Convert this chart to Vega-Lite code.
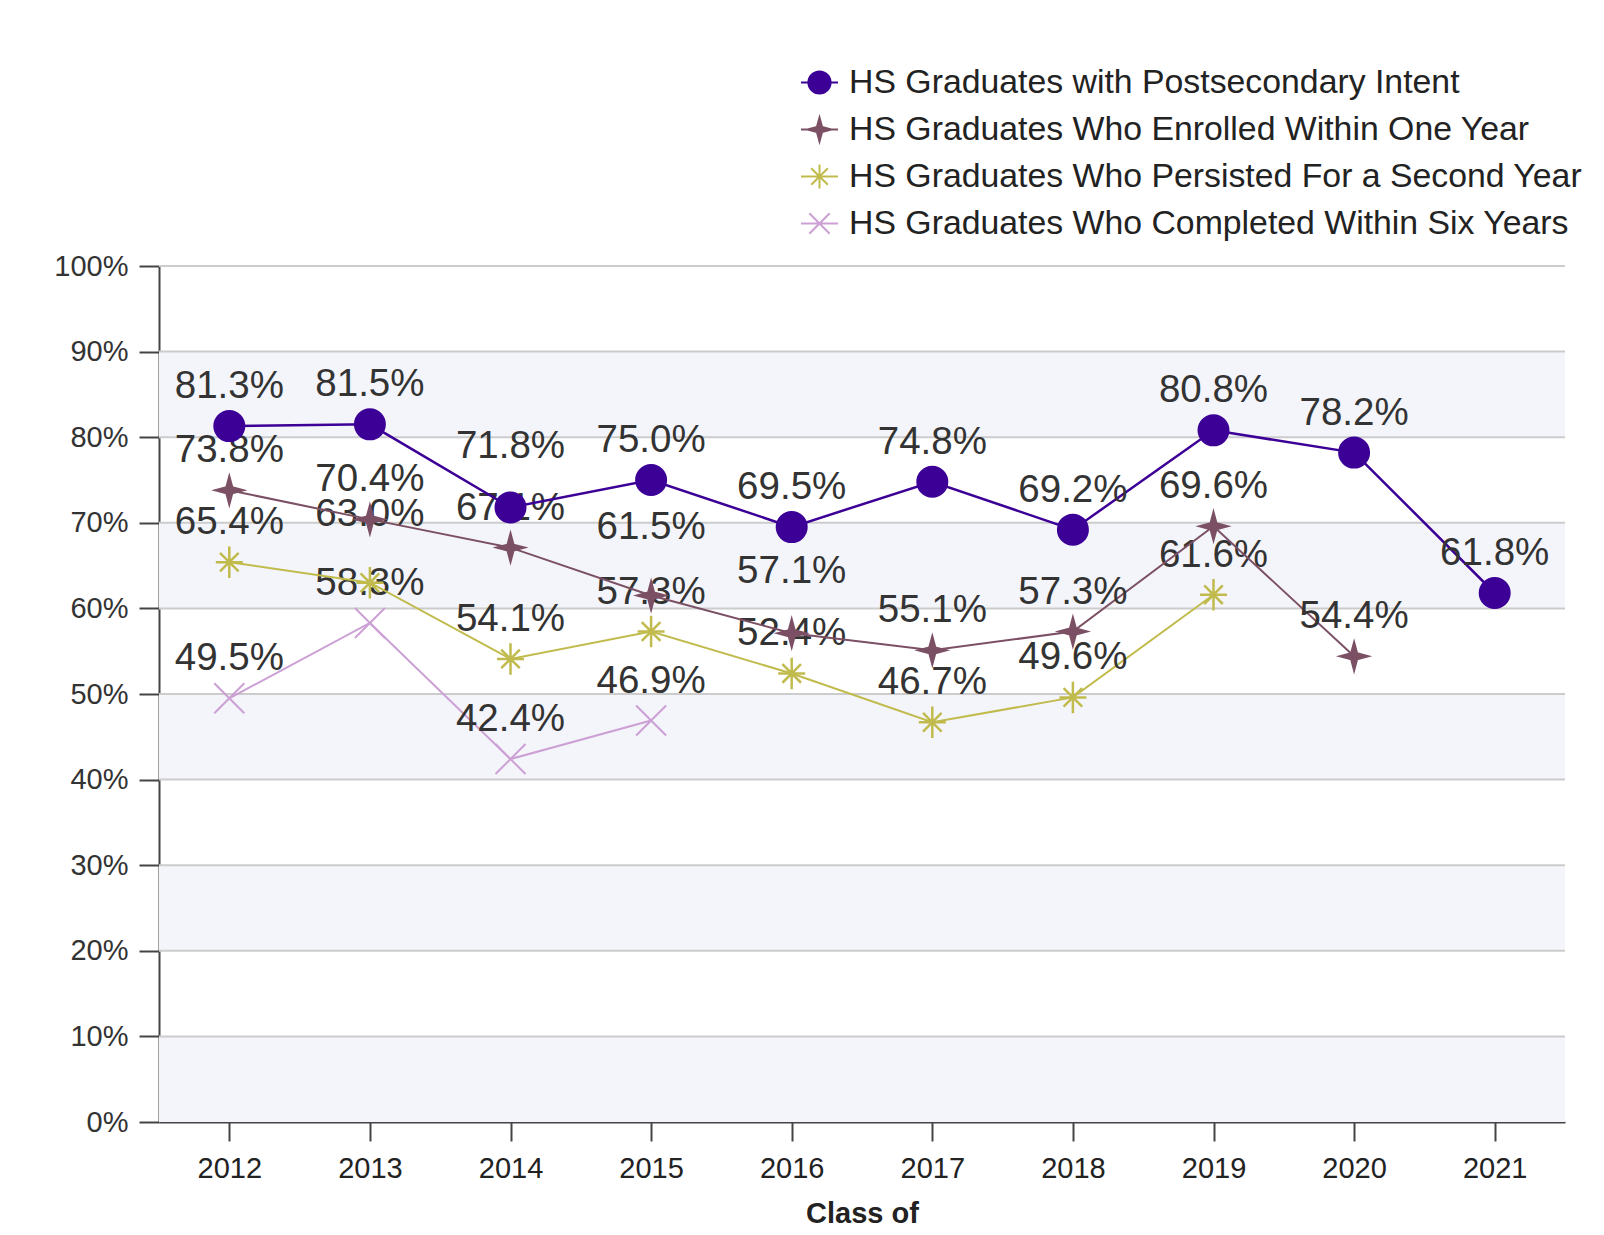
{
  "$schema": "https://vega.github.io/schema/vega-lite/v6.json",
  "width": 1406,
  "height": 856,
  "autosize": "none",
  "padding": {"left": 159, "top": 266, "right": 39, "bottom": 113},
  "background": "white",
  "config": {
    "view": {"stroke": null},
    "font": "Liberation Sans",
    "axisY": {
      "format": ".0%",
      "labelFontSize": 29,
      "labelColor": "#333333",
      "labelFont": "Liberation Sans",
      "tickSize": 20,
      "tickWidth": 2,
      "tickColor": "#444444",
      "domainColor": "#444444",
      "domainWidth": 2,
      "labelPadding": 11,
      "grid": false,
      "zindex": 1
    },
    "axisX": {
      "titleFontSize": 29, "titleFontWeight": "bold", "titleColor": "#222222", "titleFont": "Liberation Sans",
      "labelFontSize": 29, "labelColor": "#222222", "labelFont": "Liberation Sans", "labelAngle": 0,
      "tickSize": 19, "tickWidth": 2, "tickColor": "#444444",
      "domainColor": "#444444", "domainWidth": 2,
      "labelPadding": 13, "titlePadding": 16, "zindex": 1, "grid": false
    },
    "legend": {
      "labelFontSize": 33.8,
      "labelColor": "#222222",
      "labelFont": "Liberation Sans",
      "symbolSize": 1369,
      "symbolStrokeWidth": 2,
      "rowPadding": 10,
      "padding": 0,
      "labelOffset": 10,
      "labelLimit": 1000
    }
  },
  "datasets": {
    "main": [
      {"series": "HS Graduates with Postsecondary Intent", "year": 2012, "value": 0.813},
      {"series": "HS Graduates with Postsecondary Intent", "year": 2013, "value": 0.815},
      {"series": "HS Graduates with Postsecondary Intent", "year": 2014, "value": 0.718},
      {"series": "HS Graduates with Postsecondary Intent", "year": 2015, "value": 0.750},
      {"series": "HS Graduates with Postsecondary Intent", "year": 2016, "value": 0.695},
      {"series": "HS Graduates with Postsecondary Intent", "year": 2017, "value": 0.748},
      {"series": "HS Graduates with Postsecondary Intent", "year": 2018, "value": 0.692},
      {"series": "HS Graduates with Postsecondary Intent", "year": 2019, "value": 0.808},
      {"series": "HS Graduates with Postsecondary Intent", "year": 2020, "value": 0.782},
      {"series": "HS Graduates with Postsecondary Intent", "year": 2021, "value": 0.618},
      {"series": "HS Graduates Who Enrolled Within One Year", "year": 2012, "value": 0.738},
      {"series": "HS Graduates Who Enrolled Within One Year", "year": 2013, "value": 0.704},
      {"series": "HS Graduates Who Enrolled Within One Year", "year": 2014, "value": 0.671},
      {"series": "HS Graduates Who Enrolled Within One Year", "year": 2015, "value": 0.615},
      {"series": "HS Graduates Who Enrolled Within One Year", "year": 2016, "value": 0.571},
      {"series": "HS Graduates Who Enrolled Within One Year", "year": 2017, "value": 0.551},
      {"series": "HS Graduates Who Enrolled Within One Year", "year": 2018, "value": 0.573},
      {"series": "HS Graduates Who Enrolled Within One Year", "year": 2019, "value": 0.696},
      {"series": "HS Graduates Who Enrolled Within One Year", "year": 2020, "value": 0.544},
      {"series": "HS Graduates Who Persisted For a Second Year", "year": 2012, "value": 0.654},
      {"series": "HS Graduates Who Persisted For a Second Year", "year": 2013, "value": 0.630},
      {"series": "HS Graduates Who Persisted For a Second Year", "year": 2014, "value": 0.541},
      {"series": "HS Graduates Who Persisted For a Second Year", "year": 2015, "value": 0.573},
      {"series": "HS Graduates Who Persisted For a Second Year", "year": 2016, "value": 0.524},
      {"series": "HS Graduates Who Persisted For a Second Year", "year": 2017, "value": 0.467},
      {"series": "HS Graduates Who Persisted For a Second Year", "year": 2018, "value": 0.496},
      {"series": "HS Graduates Who Persisted For a Second Year", "year": 2019, "value": 0.616},
      {"series": "HS Graduates Who Completed Within Six Years", "year": 2012, "value": 0.495},
      {"series": "HS Graduates Who Completed Within Six Years", "year": 2013, "value": 0.583},
      {"series": "HS Graduates Who Completed Within Six Years", "year": 2014, "value": 0.424},
      {"series": "HS Graduates Who Completed Within Six Years", "year": 2015, "value": 0.469}
    ],
    "bands": [
      {"lo": 0.0, "hi": 0.1},
      {"lo": 0.2, "hi": 0.3},
      {"lo": 0.4, "hi": 0.5},
      {"lo": 0.6, "hi": 0.7},
      {"lo": 0.8, "hi": 0.9}
    ],
    "grid": [
      {"g": 0.1}, {"g": 0.2}, {"g": 0.3}, {"g": 0.4}, {"g": 0.5},
      {"g": 0.6}, {"g": 0.7}, {"g": 0.8}, {"g": 0.9}, {"g": 1.0}
    ]
  },
  "layer": [
    {
      "data": {"name": "bands"},
      "mark": {"type": "rect", "color": "#f4f5fb"},
      "encoding": {
        "y": {"field": "lo", "type": "quantitative", "scale": {"domain": [0, 1]}, "axis": {"title": null, "values": [0, 0.1, 0.2, 0.3, 0.4, 0.5, 0.6, 0.7, 0.8, 0.9, 1.0]}},
        "y2": {"field": "hi"}
      }
    },
    {
      "data": {"name": "grid"},
      "mark": {"type": "rule", "color": "#cccccc", "strokeWidth": 2},
      "encoding": {
        "y": {"field": "g", "type": "quantitative", "axis": {"title": null, "values": [0, 0.1, 0.2, 0.3, 0.4, 0.5, 0.6, 0.7, 0.8, 0.9, 1.0]}}
      }
    },
    {
      "data": {"name": "main"},
      "transform": [{"filter": "datum.series === 'HS Graduates Who Completed Within Six Years'"}],
      "encoding": {
        "x": {
          "field": "year", "type": "ordinal",
          "scale": {"type": "point", "padding": 0.5, "domain": [2012, 2013, 2014, 2015, 2016, 2017, 2018, 2019, 2020, 2021]},
          "axis": {"title": "Class of"}
        },
        "y": {"field": "value", "type": "quantitative", "axis": {"title": null, "values": [0, 0.1, 0.2, 0.3, 0.4, 0.5, 0.6, 0.7, 0.8, 0.9, 1.0]}}
      },
      "layer": [
        {
          "mark": {"type": "line", "strokeWidth": 2},
          "encoding": {
            "stroke": {"field": "series", "type": "nominal",
              "scale": {"domain": ["HS Graduates with Postsecondary Intent", "HS Graduates Who Enrolled Within One Year", "HS Graduates Who Persisted For a Second Year", "HS Graduates Who Completed Within Six Years"],
                        "range": ["#3c0097", "#7c5064", "#c1bb4d", "#cca0d4"]}}
          }
        },
        {
          "mark": {"type": "point", "filled": true, "size": 900, "strokeWidth": 2, "opacity": 1, "shape": "M-1,-1L1,1M-1,1L1,-1"},
          "encoding": {
            "fill": {"field": "series", "type": "nominal",
              "scale": {"domain": ["HS Graduates with Postsecondary Intent", "HS Graduates Who Enrolled Within One Year", "HS Graduates Who Persisted For a Second Year", "HS Graduates Who Completed Within Six Years"],
                        "range": ["#3c0097", "#7c5064", "#c1bb4d", "#cca0d4"]}},
            "stroke": {"field": "series", "type": "nominal"}
          }
        },
        {
          "mark": {"type": "text", "fontSize": 38.5, "color": "#333333", "dy": -40, "baseline": "middle", "align": "center", "font": "Liberation Sans"},
          "encoding": {"text": {"field": "value", "type": "quantitative", "format": ".1%"}}
        }
      ]
    },
    {
      "data": {"name": "main"},
      "transform": [{"filter": "datum.series === 'HS Graduates Who Persisted For a Second Year'"}],
      "encoding": {
        "x": {"field": "year", "type": "ordinal", "axis": {"title": "Class of"}},
        "y": {"field": "value", "type": "quantitative", "axis": {"title": null, "values": [0, 0.1, 0.2, 0.3, 0.4, 0.5, 0.6, 0.7, 0.8, 0.9, 1.0]}}
      },
      "layer": [
        {
          "mark": {"type": "line", "strokeWidth": 2},
          "encoding": {"stroke": {"field": "series", "type": "nominal"}}
        },
        {
          "mark": {"type": "point", "filled": true, "size": 900, "strokeWidth": 2.5, "opacity": 1, "shape": "M-0.9,0L0.9,0M0,-1.05L0,1.05M-0.62,-0.62L0.62,0.62M-0.62,0.62L0.62,-0.62"},
          "encoding": {
            "fill": {"field": "series", "type": "nominal"},
            "stroke": {"field": "series", "type": "nominal"}
          }
        },
        {
          "transform": [{"filter": "datum.year !== 2013"}],
          "mark": {"type": "text", "fontSize": 38.5, "color": "#333333", "dy": -40, "baseline": "middle", "align": "center", "font": "Liberation Sans"},
          "encoding": {"text": {"field": "value", "type": "quantitative", "format": ".1%"}}
        },
        {
          "transform": [{"filter": "datum.year === 2013"}],
          "mark": {"type": "text", "fontSize": 38.5, "color": "#333333", "dy": -69, "baseline": "middle", "align": "center", "font": "Liberation Sans"},
          "encoding": {"text": {"field": "value", "type": "quantitative", "format": ".1%"}}
        }
      ]
    },
    {
      "data": {"name": "main"},
      "transform": [{"filter": "datum.series === 'HS Graduates Who Enrolled Within One Year'"}],
      "encoding": {
        "x": {"field": "year", "type": "ordinal", "axis": {"title": "Class of"}},
        "y": {"field": "value", "type": "quantitative", "axis": {"title": null, "values": [0, 0.1, 0.2, 0.3, 0.4, 0.5, 0.6, 0.7, 0.8, 0.9, 1.0]}}
      },
      "layer": [
        {
          "mark": {"type": "line", "strokeWidth": 2},
          "encoding": {"stroke": {"field": "series", "type": "nominal"}}
        },
        {
          "mark": {"type": "point", "filled": true, "size": 900, "strokeWidth": 2, "opacity": 1, "shape": "M0,-0.95L0.2,-0.2L0.95,0L0.2,0.2L0,0.95L-0.2,0.2L-0.95,0L-0.2,-0.2Z"},
          "encoding": {
            "fill": {"field": "series", "type": "nominal"},
            "stroke": {"field": "series", "type": "nominal"}
          }
        },
        {
          "transform": [{"filter": "datum.year !== 2015 && datum.year !== 2016"}],
          "mark": {"type": "text", "fontSize": 38.5, "color": "#333333", "dy": -40, "baseline": "middle", "align": "center", "font": "Liberation Sans"},
          "encoding": {"text": {"field": "value", "type": "quantitative", "format": ".1%"}}
        },
        {
          "transform": [{"filter": "datum.year === 2016"}],
          "mark": {"type": "text", "fontSize": 38.5, "color": "#333333", "dy": -62, "baseline": "middle", "align": "center", "font": "Liberation Sans"},
          "encoding": {"text": {"field": "value", "type": "quantitative", "format": ".1%"}}
        },
        {
          "transform": [{"filter": "datum.year === 2015"}],
          "mark": {"type": "text", "fontSize": 38.5, "color": "#333333", "dy": -69, "baseline": "middle", "align": "center", "font": "Liberation Sans"},
          "encoding": {"text": {"field": "value", "type": "quantitative", "format": ".1%"}}
        }
      ]
    },
    {
      "data": {"name": "main"},
      "transform": [{"filter": "datum.series === 'HS Graduates with Postsecondary Intent'"}],
      "encoding": {
        "x": {"field": "year", "type": "ordinal", "axis": {"title": "Class of"}},
        "y": {"field": "value", "type": "quantitative", "axis": {"title": null, "values": [0, 0.1, 0.2, 0.3, 0.4, 0.5, 0.6, 0.7, 0.8, 0.9, 1.0]}}
      },
      "layer": [
        {
          "mark": {"type": "line", "strokeWidth": 2.5},
          "encoding": {"stroke": {"field": "series", "type": "nominal"}}
        },
        {
          "transform": [{"filter": "datum.year !== 2014"}],
          "mark": {"type": "text", "fontSize": 38.5, "color": "#333333", "dy": -40, "baseline": "middle", "align": "center", "font": "Liberation Sans"},
          "encoding": {"text": {"field": "value", "type": "quantitative", "format": ".1%"}}
        },
        {
          "transform": [{"filter": "datum.year === 2014"}],
          "mark": {"type": "text", "fontSize": 38.5, "color": "#333333", "dy": -61, "baseline": "middle", "align": "center", "font": "Liberation Sans"},
          "encoding": {"text": {"field": "value", "type": "quantitative", "format": ".1%"}}
        },
        {
          "mark": {"type": "point", "filled": true, "size": 900, "strokeWidth": 2, "opacity": 1, "shape": "circle"},
          "encoding": {
            "fill": {"field": "series", "type": "nominal"},
            "stroke": {"field": "series", "type": "nominal"}
          }
        }
      ]
    },
    {
      "data": {"name": "main"},
      "transform": [{"filter": "false"}],
      "mark": {"type": "point", "filled": true, "strokeWidth": 2},
      "encoding": {
        "x": {"field": "year", "type": "ordinal", "axis": {"title": "Class of"}},
        "y": {"field": "value", "type": "quantitative", "axis": {"title": null, "values": [0, 0.1, 0.2, 0.3, 0.4, 0.5, 0.6, 0.7, 0.8, 0.9, 1.0]}},
        "fill": {"field": "series", "type": "nominal"},
        "stroke": {"field": "series", "type": "nominal"},
        "shape": {
          "field": "series", "type": "nominal",
          "scale": {
            "domain": ["HS Graduates with Postsecondary Intent", "HS Graduates Who Enrolled Within One Year", "HS Graduates Who Persisted For a Second Year", "HS Graduates Who Completed Within Six Years"],
            "range": [
              "M-1,0L1,0M-0.6,0A0.6,0.6,0,1,0,0.6,0A0.6,0.6,0,1,0,-0.6,0Z",
              "M-1,0L1,0M0,-0.65L0.14,-0.14L0.65,0L0.14,0.14L0,0.65L-0.14,0.14L-0.65,0L-0.14,-0.14Z",
              "M-1,0L1,0M0,-0.65L0,0.65M-0.45,-0.45L0.45,0.45M-0.45,0.45L0.45,-0.45",
              "M-1,0L1,0M-0.55,-0.55L0.55,0.55M-0.55,0.55L0.55,-0.55"
            ]
          },
          "legend": {
            "title": null,
            "orient": "none",
            "legendX": 641,
            "legendY": -203
          }
        }
      }
    }
  ]
}
